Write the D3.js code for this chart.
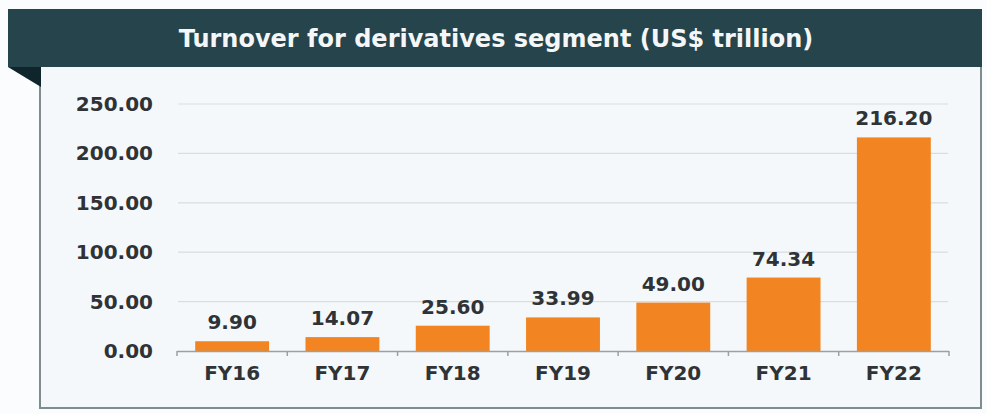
<!DOCTYPE html>
<html lang="en">
<head>
<meta charset="utf-8">
<title>Turnover for derivatives segment</title>
<script src="https://d3js.org/d3.v7.min.js"></script>
<style>
  html, body { margin: 0; padding: 0; background: #fbfcfd; overflow: hidden; }
  svg { display: block; overflow: visible; font-family: "DejaVu Sans", "Liberation Sans", Arial, sans-serif; }
</style>
</head>
<body>
<div id="chart"></div>
<script>
// Data
const categories = ["FY16", "FY17", "FY18", "FY19", "FY20", "FY21", "FY22"];
const turnover = [9.90, 14.07, 25.60, 33.99, 49.00, 74.34, 216.20];
const yTicks = [0, 50, 100, 150, 200, 250];
const title = "Turnover for derivatives segment (US$ trillion)";

const width = 987;
const height = 414;
const margin = { top: 104, right: 38, bottom: 63, left: 177 };
const innerWidth = width - margin.left - margin.right;
const innerHeight = height - margin.top - margin.bottom;

const svg = d3.select("#chart").append("svg")
  .attr("width", width)
  .attr("height", height);

// Panel + header
svg.append("rect")
  .attr("x", 40).attr("y", 60)
  .attr("width", 941).attr("height", 348)
  .attr("fill", "#f4f8fa")
  .attr("stroke", "#7f8d91")
  .attr("stroke-width", 2);

svg.append("rect")
  .attr("x", 8).attr("y", 9)
  .attr("width", 974).attr("height", 58)
  .attr("fill", "#25444c");

svg.append("path")
  .attr("d", "M8,67 L41,67 L41,87 Z")
  .attr("fill", "#0e252b");

svg.append("text")
  .attr("x", 496)
  .attr("y", 47)
  .attr("text-anchor", "middle")
  .attr("font-size", 24)
  .attr("font-weight", "bold")
  .attr("fill", "#f4f6f7")
  .text(title);

const bounds = svg.append("g")
  .attr("transform", `translate(${margin.left},${margin.top})`);

// Scales
const xScale = d3.scaleBand()
  .domain(categories)
  .range([0, innerWidth])
  .paddingInner(0.33)
  .paddingOuter(0.165);

const yScale = d3.scaleLinear()
  .domain([0, 250])
  .range([innerHeight, 0]);

// Gridlines
bounds.selectAll(".grid")
  .data(yTicks.filter(d => d > 0))
  .enter()
  .append("line")
  .attr("x1", 1)
  .attr("x2", innerWidth - 1)
  .attr("y1", d => yScale(d))
  .attr("y2", d => yScale(d))
  .attr("stroke", "#dadddf")
  .attr("stroke-width", 1.2);

// Y labels
bounds.selectAll(".y-label")
  .data(yTicks)
  .enter()
  .append("text")
  .attr("x", -24)
  .attr("y", d => yScale(d) + 7)
  .attr("text-anchor", "end")
  .attr("font-size", 20)
  .attr("font-weight", "bold")
  .attr("fill", "#303336")
  .text(d => d.toFixed(2));

// Bars
bounds.selectAll(".bar")
  .data(turnover)
  .enter()
  .append("rect")
  .attr("x", (d, i) => xScale(categories[i]))
  .attr("y", d => yScale(d))
  .attr("width", xScale.bandwidth())
  .attr("height", d => innerHeight - yScale(d))
  .attr("fill", "#f28522");

// X axis line and boundary ticks
bounds.append("line")
  .attr("x1", 0).attr("x2", innerWidth)
  .attr("y1", innerHeight + 0.5).attr("y2", innerHeight + 0.5)
  .attr("stroke", "#9aa0a4")
  .attr("stroke-width", 1.5);

const boundaries = d3.range(categories.length + 1);
bounds.selectAll(".x-tick")
  .data(boundaries)
  .enter()
  .append("line")
  .attr("x1", i => i * xScale.step())
  .attr("x2", i => i * xScale.step())
  .attr("y1", innerHeight)
  .attr("y2", innerHeight + 5)
  .attr("stroke", "#9aa0a4")
  .attr("stroke-width", 1.5);

// X labels
bounds.selectAll(".x-label")
  .data(categories)
  .enter()
  .append("text")
  .attr("x", d => xScale(d) + xScale.bandwidth() / 2)
  .attr("y", innerHeight + 29)
  .attr("text-anchor", "middle")
  .attr("font-size", 20)
  .attr("font-weight", "bold")
  .attr("fill", "#303336")
  .text(d => d);

// Value labels
bounds.selectAll(".value-label")
  .data(turnover)
  .enter()
  .append("text")
  .attr("x", (d, i) => xScale(categories[i]) + xScale.bandwidth() / 2)
  .attr("y", d => yScale(d) - 12)
  .attr("text-anchor", "middle")
  .attr("font-size", 20)
  .attr("font-weight", "bold")
  .attr("fill", "#303336")
  .text(d => d.toFixed(2));
</script>
</body>
</html>
